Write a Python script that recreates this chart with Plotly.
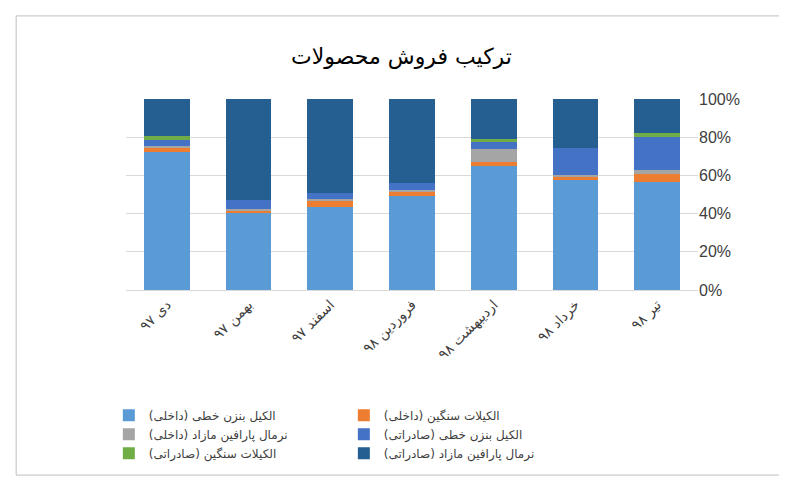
import plotly.graph_objects as go

months = ["دی ۹۷", "بهمن ۹۷", "اسفند ۹۷", "فروردین ۹۸", "اردیبهشت ۹۸", "خرداد ۹۸", "تیر ۹۸"]

lab_dom = [72.5, 40.1, 43.6, 49.1, 65.0, 57.5, 56.8]
alk_dom = [1.9, 1.2, 3.1, 2.1, 2.1, 2.1, 3.8]
npar_dom = [1.0, 1.2, 1.0, 1.2, 6.8, 0.7, 2.1]
lab_exp = [3.2, 4.7, 3.2, 3.7, 3.6, 14.3, 17.6]
alk_exp = [2.1, 0.0, 0.0, 0.0, 1.6, 0.0, 1.9]
npar_exp = [19.3, 52.8, 49.1, 43.9, 20.9, 25.4, 17.8]

series = [
    ("الکیل بنزن خطی (داخلی)", lab_dom, "#5b9bd5"),
    ("الکیلات سنگین (داخلی)", alk_dom, "#ed7d31"),
    ("نرمال پارافین مازاد (داخلی)", npar_dom, "#a5a5a5"),
    ("الکیل بنزن خطی (صادراتی)", lab_exp, "#4472c4"),
    ("الکیلات سنگین (صادراتی)", alk_exp, "#70ad47"),
    ("نرمال پارافین مازاد (صادراتی)", npar_exp, "#255e91"),
]

fig = go.Figure()
for name, vals, col in series:
    fig.add_trace(go.Bar(x=months, y=[v / 100 for v in vals], name=name,
                         marker=dict(color=col, line_width=0)))

fig.update_layout(
    barmode="stack", bargap=0.44,
    width=787, height=477,
    paper_bgcolor="white", plot_bgcolor="white",
    font=dict(family="DejaVu Sans", size=13, color="#404040"),
    title=dict(text="ترکیب فروش محصولات", x=0.5, y=0.915, xanchor="center",
               font=dict(size=22, color="#000000")),
    margin=dict(l=118, r=97, t=91, b=195, autoexpand=False),
    xaxis=dict(tickangle=-45, showline=True, linecolor="#d9d9d9", automargin=False,
               tickfont=dict(size=14, color="#404040")),
    yaxis=dict(side="right", range=[0, 1], dtick=0.2, tickformat=".0%",
               gridcolor="#d9d9d9", zeroline=False, automargin=False,
               tickfont=dict(family="Liberation Sans", size=16, color="#404040")),
    legend=dict(orientation="h", x=-0.03, y=-0.58, xanchor="left", yanchor="top",
                entrywidth=190, traceorder="normal",
                font=dict(size=12, color="#404040")),
    shapes=[dict(type="rect", xref="paper", yref="paper",
                 x0=-0.192, x1=1.156, y0=-0.969, y1=1.435,
                 line=dict(color="#bfbfbf", width=1))],
)

fig.write_html("out.html")
